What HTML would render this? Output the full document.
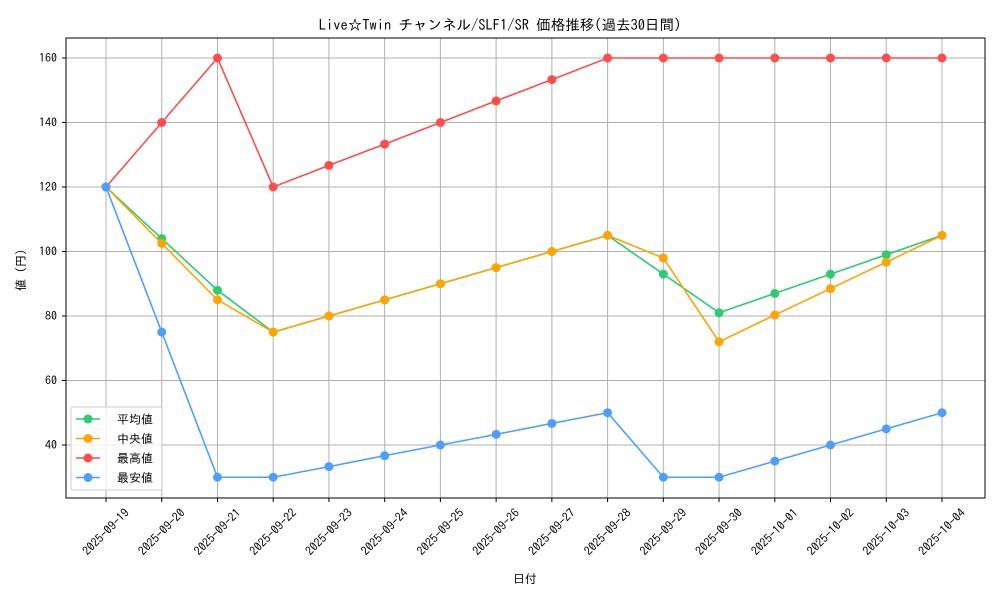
<!DOCTYPE html>
<html><head><meta charset="utf-8"><style>body{margin:0;background:#fff}svg{display:block;font-family:"IPAGothic","Noto Sans CJK JP",sans-serif}</style></head><body>
<svg width="1000" height="600" xmlns="http://www.w3.org/2000/svg">
<rect width="1000" height="600" fill="#fff"/>
<g id="grid" stroke="#b0b0b0" stroke-width="1"></g>
<rect x="66" y="38" width="919" height="460" fill="none" stroke="#000" stroke-width="1"/>
<g id="ticks" stroke="#000"></g>
<g id="labels" font-size="12" fill="#000"></g>
<g id="series"></g>
<text x="500" y="30" font-size="14.5" text-anchor="middle">Live☆Twin チャンネル/SLF1/SR 価格推移(過去30日間)</text>
<text x="525" y="583" font-size="12" text-anchor="middle">日付</text>
<text transform="translate(25,270) rotate(-90)" font-size="12" text-anchor="middle">値 (円)</text>
<g id="legend">
<rect x="71" y="407" width="91" height="83" fill="#fff" fill-opacity="0.8" stroke="#ccc" rx="2"/>
</g>
<script>
const ns="http://www.w3.org/2000/svg";
const X=i=>106+i*55.733, Y=v=>58+(160-v)*3.225;
function el(p,t,a,txt){const e=document.createElementNS(ns,t);for(const k in a)e.setAttribute(k,a[k]);if(txt!=null)e.textContent=txt;document.getElementById(p).appendChild(e);return e;}
const dates=["2025-09-19","2025-09-20","2025-09-21","2025-09-22","2025-09-23","2025-09-24","2025-09-25","2025-09-26","2025-09-27","2025-09-28","2025-09-29","2025-09-30","2025-10-01","2025-10-02","2025-10-03","2025-10-04"];
dates.forEach((d,i)=>{const x=X(i);el("grid","line",{x1:x,x2:x,y1:38,y2:498});el("ticks","line",{x1:x,x2:x,y1:498,y2:502});
el("labels","text",{x:x,y:536,"text-anchor":"middle",transform:`rotate(-45 ${x} 532)`},d);});
[40,60,80,100,120,140,160].forEach(v=>{const y=Y(v);el("grid","line",{x1:66,x2:985,y1:y,y2:y});el("ticks","line",{x1:62,x2:66,y1:y,y2:y});
el("labels","text",{x:57,y:y+4,"text-anchor":"end"},v);});
const S=[
["#2ecc71",[120,104,88,75,80,85,90,95,100,105,93,81,87,93,99,105]],
["#ffa500",[120,102.5,85,75,80,85,90,95,100,105,98,72,80.3,88.5,96.7,105]],
["#ff4d4d",[120,140,160,120,126.7,133.3,140,146.7,153.3,160,160,160,160,160,160,160]],
["#4d9fff",[120,75,30,30,33.3,36.7,40,43.3,46.7,50,30,30,35,40,45,50]]];
S.forEach(([c,d])=>{el("series","polyline",{points:d.map((v,i)=>X(i)+","+Y(v)).join(" "),fill:"none",stroke:c,"stroke-width":1.6});
d.forEach((v,i)=>el("series","circle",{cx:X(i),cy:Y(v),r:4.5,fill:c}));});
const names=["平均値","中央値","最高値","最安値"];
S.forEach(([c],k)=>{const y=419+k*19.5;el("legend","line",{x1:76,x2:100,y1:y,y2:y,stroke:c,"stroke-width":1.6});
el("legend","circle",{cx:88,cy:y,r:4.5,fill:c});el("legend","text",{x:117,y:y+4.5,"font-size":12},names[k]);});
</script>
</svg>
</body></html>
